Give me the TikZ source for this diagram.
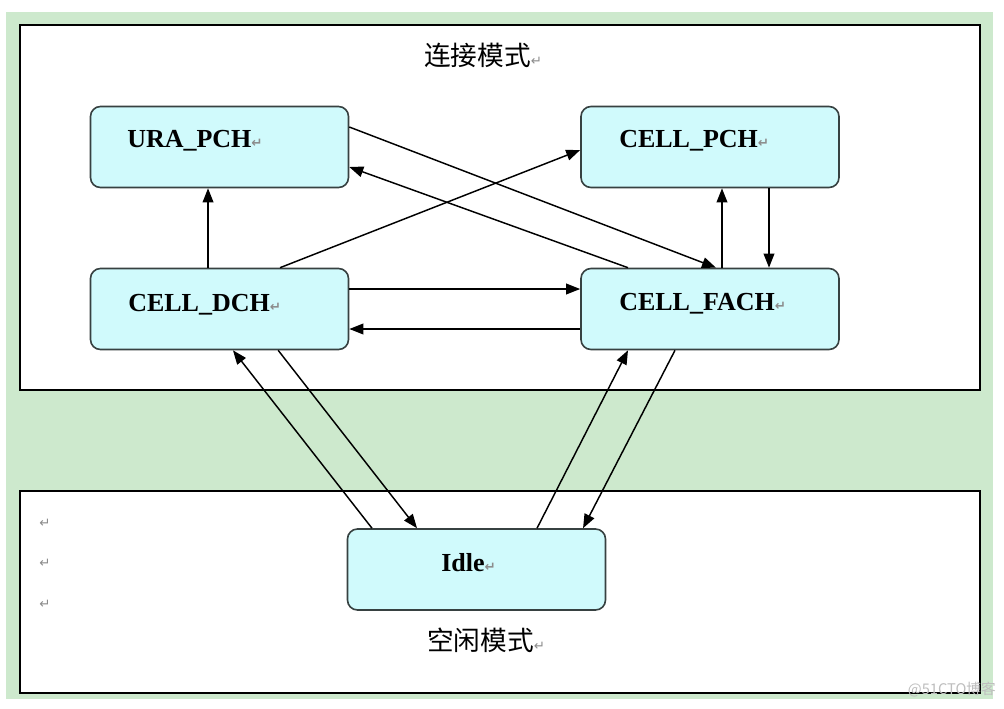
\documentclass[tikz,border=0pt]{standalone}
\usepackage{fontspec}
\setmainfont{Liberation Serif}
\newfontfamily\cjkf{Noto Sans CJK SC}
\newfontfamily\symf{DejaVu Sans}
\usetikzlibrary{arrows.meta}
\definecolor{bggreen}{RGB}{205,233,205}
\definecolor{boxfill}{RGB}{208,250,252}
\definecolor{boxline}{RGB}{55,65,65}
\definecolor{retgray}{RGB}{140,140,140}
\definecolor{wmgray}{RGB}{190,190,190}
\newcommand{\retmark}{{\symf\fontsize{10}{10}\selectfont\color{retgray}↵}}
\tikzset{
  frame/.style={draw=black, line width=1.4pt, fill=white, minimum width=720pt, inner sep=0pt},
  statebox/.style={draw=boxline, fill=boxfill, line width=1.2pt, rounded corners=7.5pt,
    minimum width=193.5pt, minimum height=60.75pt, inner sep=0pt},
  lbl/.style={anchor=west, inner sep=0pt, font=\bfseries\fontsize{19.5}{20}\selectfont},
  cjklbl/.style={anchor=west, inner sep=0pt, font=\cjkf\fontsize{20}{20}\selectfont},
  conn/.style={draw=black, line width=1.1pt, -{Triangle[length=10.5pt,width=8pt]}},
}
\begin{document}
\begin{tikzpicture}[x=0.75pt,y=-0.75pt]
\useasboundingbox (0,0) rectangle (1004,708);
\fill[bggreen] (6,12) rectangle (993,699);
\node[frame, minimum height=273.75pt] (connmode) at (500,207.5) {};
\node[frame, minimum height=151.5pt] (idlemode) at (500,592) {};

\node[cjklbl] (title1) at (424,55) {连接模式\retmark};
\node[cjklbl] (title2) at (427,640) {空闲模式\retmark};

\node[statebox] (ura)  at (219.5,147) {};
\node[statebox] (cpch) at (710,147) {};
\node[statebox] (dch)  at (219.5,309) {};
\node[statebox] (fach) at (710,309) {};
\node[statebox] (idle) at (476.5,569.5) {};

\node[lbl] (uratxt)  at (127,141) {URA\_PCH\retmark};
\node[lbl] (cpchtxt) at (619,141) {CELL\_PCH\retmark};
\node[lbl] (dchtxt)  at (128,305) {CELL\_DCH\retmark};
\node[lbl] (fachtxt) at (619,304) {CELL\_FACH\retmark};
\node[lbl] (idletxt) at (441,563) {Idle\retmark};

\node[anchor=center, inner sep=0pt] (ret1) at (45,523) {\retmark};
\node[anchor=center, inner sep=0pt] (ret2) at (45,563) {\retmark};
\node[anchor=center, inner sep=0pt] (ret3) at (45,604) {\retmark};
\node[anchor=east, inner sep=0pt, text=wmgray, font=\cjkf\fontsize{11}{11}\selectfont] (wm) at (996,690) {@51CTO博客};

% connectors
\draw[conn] ([xshift=-8.6pt]dch.north) -- ([xshift=-8.6pt]ura.south);
\draw[conn] ([xshift=45.4pt]dch.north) -- ([yshift=-2.25pt]cpch.west);
\draw[conn] ([yshift=15pt]ura.east) -- ([xshift=4.5pt]fach.north);
\draw[conn] ([xshift=-61.5pt]fach.north) -- ([yshift=-15pt]ura.east);
\draw[conn] ([xshift=9pt]fach.north) -- ([xshift=9pt]cpch.south);
\draw[conn] ([xshift=44.25pt]cpch.south) -- ([xshift=44.25pt]fach.north);
\draw[conn] ([yshift=15pt]dch.east) -- ([yshift=15pt]fach.west);
\draw[conn] ([yshift=-15pt]fach.west) -- ([yshift=-15pt]dch.east);
\draw[conn] ([xshift=-78.4pt]idle.north) -- ([xshift=10.1pt]dch.south);
\draw[conn] ([xshift=44pt]dch.south) -- ([xshift=-44.6pt]idle.north);
\draw[conn] ([xshift=45.4pt]idle.north) -- ([xshift=-61.5pt]fach.south);
\draw[conn] ([xshift=-26.25pt]fach.south) -- ([xshift=79.9pt]idle.north);
\end{tikzpicture}
\end{document}
